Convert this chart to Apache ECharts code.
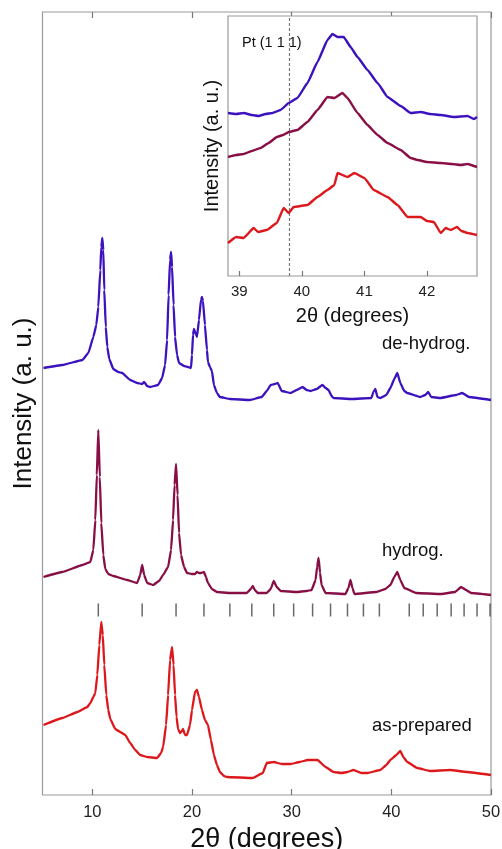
<!DOCTYPE html>
<html><head><meta charset="utf-8">
<script src="https://cdn.jsdelivr.net/npm/echarts@6/dist/echarts.min.js"></script>
<style>html,body{margin:0;padding:0;background:#fff}#c{width:502px;height:849px}</style>
</head><body><div id="c"></div>
<script>
// ---- main pattern data: [2theta, intensity (a.u., offset included)] ----
const deHydrog = [[5.1,427],[7.0,430],[9.0,435],[9.6,442],[10.1,458],[10.4,470],[10.6,488],[10.8,525],[10.9,548],[11.0,557],[11.1,545],[11.2,505],[11.35,468],[11.5,448],[11.7,436],[12.1,426],[12.6,423],[13.0,422],[13.8,415],[14.5,412],[15.0,411],[15.2,413],[15.5,409],[15.8,408],[16.6,410],[17.0,417],[17.3,430],[17.5,455],[17.65,500],[17.8,535],[17.9,543],[18.0,528],[18.15,490],[18.3,458],[18.5,440],[18.7,432],[19.2,429],[19.6,428],[19.9,427],[20.0,440],[20.1,460],[20.2,466],[20.35,462],[20.5,458],[20.7,475],[20.9,495],[21.0,498],[21.1,494],[21.3,470],[21.5,445],[21.6,433],[21.8,428],[22.0,424],[22.2,410],[22.5,402],[22.8,398],[23.8,396],[25.8,395],[27.0,398],[27.5,404],[27.9,410],[28.3,411],[28.6,412],[29.0,404],[29.9,402],[30.5,405],[31.1,408],[31.5,405],[31.9,404],[32.5,406],[33.1,410],[33.4,407],[33.7,405],[34.0,399],[34.2,397],[36.0,396],[38.0,397],[38.2,403],[38.4,406],[38.6,398],[38.9,397],[39.5,400],[39.9,407],[40.3,416],[40.6,422],[40.9,412],[41.3,404],[41.6,402],[42.9,398],[43.4,400],[43.7,403],[44.0,398],[44.9,397],[46.5,400],[47.1,402],[47.8,398],[50.0,395]];
const hydrog = [[5.1,218],[7.0,223],[9.0,230],[9.8,233],[10.1,245],[10.3,275],[10.45,320],[10.6,365],[10.75,318],[10.9,272],[11.1,240],[11.3,226],[11.6,221],[12.1,219],[13.5,215],[14.5,212],[14.8,220],[15.0,230],[15.2,220],[15.5,212],[16.1,210],[16.7,214],[17.1,220],[17.6,228],[17.9,245],[18.1,275],[18.25,310],[18.4,331],[18.55,300],[18.7,262],[18.9,240],[19.2,228],[19.5,222],[20.0,221],[20.3,221],[20.5,223],[20.7,222],[20.9,222],[21.2,223],[21.4,218],[21.6,212],[22.0,206],[22.5,203],[23.8,202],[25.5,202],[25.9,206],[26.1,209],[26.3,205],[26.6,202],[27.5,202],[27.9,206],[28.2,214],[28.5,208],[28.9,204],[30.5,203],[31.5,204],[32.0,205],[32.4,215],[32.55,228],[32.7,237],[32.85,222],[33.0,210],[33.4,202],[35.4,201],[35.7,207],[35.9,215],[36.1,207],[36.3,201],[38.5,203],[39.4,206],[39.9,210],[40.3,218],[40.6,223],[40.9,215],[41.3,207],[42.5,202],[45.0,201],[46.4,203],[47.0,208],[47.5,205],[48.0,202],[50.0,200]];
const asPrepared = [[5.1,70],[7.0,77],[8.5,83],[9.5,88],[9.8,92],[10.1,98],[10.3,102],[10.5,120],[10.7,150],[10.9,173],[11.05,160],[11.2,130],[11.4,100],[11.6,85],[11.8,76],[12.3,66],[12.8,63],[13.3,60],[13.8,52],[14.3,45],[14.8,40],[15.5,38],[16.5,37],[16.9,42],[17.1,48],[17.4,70],[17.6,100],[17.8,135],[18.0,148],[18.15,130],[18.3,100],[18.45,78],[18.6,66],[18.8,62],[19.0,64],[19.1,66],[19.3,60],[19.5,60],[19.8,70],[20.0,85],[20.3,103],[20.5,105],[20.7,98],[21.0,85],[21.3,75],[21.6,70],[21.9,55],[22.2,40],[22.5,30],[22.8,23],[23.2,19],[23.5,18],[26.1,17],[27.1,22],[27.5,32],[28.2,33],[29.0,31],[29.9,31],[30.8,33],[31.6,35],[32.6,35],[33.4,28],[34.2,23],[35.0,22],[35.6,23],[36.2,25],[37.0,22],[37.6,22],[38.9,25],[39.5,30],[39.9,35],[40.5,40],[40.9,44],[41.2,38],[41.6,33],[42.6,27],[43.9,24],[45.9,25],[47.6,23],[50.0,20]];
// reference reflection positions (tick row)
const refPeaks = [10.6,15.0,18.4,21.2,23.8,26.0,28.2,30.2,32.1,33.9,35.6,37.2,38.8,41.8,43.2,44.6,46.0,47.3,48.6,49.9];
const refRowLevel = 185;
const mainTicks = [10,20,30,40,50];
// ---- inset data ----
const insetDeHydrog = [[38.82,163],[38.95,162],[39.07,163],[39.2,161],[39.31,160],[39.42,162],[39.53,163],[39.66,166],[39.79,173],[39.93,178],[40.09,193],[40.25,214],[40.41,236],[40.49,242],[40.57,239],[40.67,239],[40.78,229],[40.89,219],[41.05,206],[41.21,193],[41.37,179],[41.58,170],[41.74,163],[41.9,164],[42.05,162],[42.22,161],[42.43,159],[42.65,160],[42.75,157],[42.8,159]];
const insetHydrog = [[38.82,119],[38.95,121],[39.07,122],[39.2,125],[39.34,128],[39.47,133],[39.6,139],[39.7,141],[39.79,144],[39.93,146],[40.09,154],[40.25,166],[40.41,179],[40.52,178],[40.65,183],[40.73,178],[40.89,163],[41.05,151],[41.21,141],[41.37,133],[41.58,126],[41.74,118],[41.85,116],[42.0,114],[42.22,113],[42.4,112],[42.54,111],[42.65,112],[42.8,109]];
const insetAsPrepared = [[38.82,33],[38.95,39],[39.07,38],[39.23,48],[39.3,44],[39.44,46],[39.6,53],[39.71,68],[39.79,63],[39.87,69],[40.09,71],[40.25,79],[40.41,86],[40.52,91],[40.57,103],[40.73,99],[40.84,103],[41.0,98],[41.15,86],[41.37,79],[41.53,71],[41.69,59],[41.9,59],[42.0,55],[42.11,54],[42.22,43],[42.3,48],[42.38,46],[42.48,49],[42.55,45],[42.65,43],[42.8,41]];
const insetTicks = [39,40,41,42];
const ptLine = 39.8;

const C_BLUE = '#3b12bd', C_PURPLE = '#880f45', C_RED = '#dd181d';
const FONT = 'Liberation Sans, Arial, sans-serif';
const chart = echarts.init(document.getElementById('c'), null, {renderer:'canvas'});
const lineS = (data, color, xi, yi, w, z) => ({type:'line', data, xAxisIndex:xi, yAxisIndex:yi, showSymbol:false, symbol:'none', smooth:0.1, smoothMonotone:'x', lineStyle:{color, width:w}, z, animation:false});

const option = {
  animation:false,
  backgroundColor:'#fff',
  grid:[
    {left:42.5, right:11, top:12, bottom:54, outerBoundsMode:'none', containLabel:false, show:true, borderColor:'#9a9a9a', borderWidth:1.2, backgroundColor:'transparent'},
    {left:228, right:25, top:16, bottom:573, outerBoundsMode:'none', containLabel:false, show:true, borderColor:'#9a9a9a', borderWidth:1.2, backgroundColor:'#fff', z:5}
  ],
  xAxis:[
    {type:'value', gridIndex:0, min:5, max:50, position:'bottom',
     axisLine:{show:false}, splitLine:{show:false},
     axisTick:{show:true, inside:true, length:6, lineStyle:{color:'#777', width:1.2}, customValues:mainTicks},
     axisLabel:{show:true, customValues:mainTicks, color:'#222', fontSize:16.5, fontFamily:FONT, margin:9},
     name:'2θ (degrees)', nameLocation:'middle', nameGap:26, nameTextStyle:{fontSize:27, color:'#111', fontFamily:FONT}},
    {type:'value', gridIndex:0, min:5, max:50, position:'top',
     axisLine:{show:false}, splitLine:{show:false},
     axisTick:{show:true, inside:true, length:6, lineStyle:{color:'#777', width:1.2}, customValues:mainTicks},
     axisLabel:{show:false}},
    {type:'value', gridIndex:1, min:38.82, max:42.8, position:'bottom',
     axisLine:{show:false}, splitLine:{show:false},
     axisTick:{show:true, inside:true, length:5, lineStyle:{color:'#777', width:1.2}, customValues:insetTicks},
     axisLabel:{show:true, customValues:insetTicks, color:'#222', fontSize:15, fontFamily:FONT, margin:8},
     name:'2θ (degrees)', nameLocation:'middle', nameGap:30, nameTextStyle:{fontSize:20, color:'#111', fontFamily:FONT}, z:6}
  ],
  yAxis:[
    {type:'value', gridIndex:0, min:0, max:783, axisLine:{show:false}, axisTick:{show:false}, axisLabel:{show:false}, splitLine:{show:false},
     name:'Intensity (a. u.)', nameLocation:'middle', nameGap:6, nameTextStyle:{fontSize:26, color:'#111', fontFamily:FONT}},
    {type:'value', gridIndex:1, min:0, max:260, axisLine:{show:false}, axisTick:{show:false}, axisLabel:{show:false}, splitLine:{show:false},
     name:'Intensity (a. u.)', nameLocation:'middle', nameGap:6, nameTextStyle:{fontSize:20, color:'#111', fontFamily:FONT}, z:6}
  ],
  series:[
    lineS(deHydrog, C_BLUE, 0, 0, 2.3, 2),
    lineS(hydrog, C_PURPLE, 0, 0, 2.3, 2),
    lineS(asPrepared, C_RED, 0, 0, 2.3, 2),
    {type:'scatter', xAxisIndex:0, yAxisIndex:0, data:refPeaks.map(v=>[v, refRowLevel]), symbol:'rect', symbolSize:[1.5,13], itemStyle:{color:'#444'}, z:2, animation:false},
    Object.assign(lineS(insetDeHydrog, C_BLUE, 2, 1, 2.4, 7), {
      markLine:{silent:true, symbol:'none', label:{show:false}, lineStyle:{color:'#777', type:[3,2], width:1.2}, data:[{xAxis:ptLine}]}
    }),
    lineS(insetHydrog, C_PURPLE, 2, 1, 2.4, 7),
    lineS(insetAsPrepared, C_RED, 2, 1, 2.4, 7)
  ],
  graphic:[
    {type:'text', left:382, top:334, z:10, style:{text:'de-hydrog.', fontSize:18.5, fill:'#111', fontFamily:FONT}},
    {type:'text', left:382, top:541, z:10, style:{text:'hydrog.', fontSize:18.5, fill:'#111', fontFamily:FONT}},
    {type:'text', left:372, top:716, z:10, style:{text:'as-prepared', fontSize:18.5, fill:'#111', fontFamily:FONT}},
    {type:'text', left:242, top:35, z:10, style:{text:'Pt (1 1 1)', fontSize:14.5, fill:'#111', fontFamily:FONT}}
  ]
};
chart.setOption(option);
</script></body></html>
